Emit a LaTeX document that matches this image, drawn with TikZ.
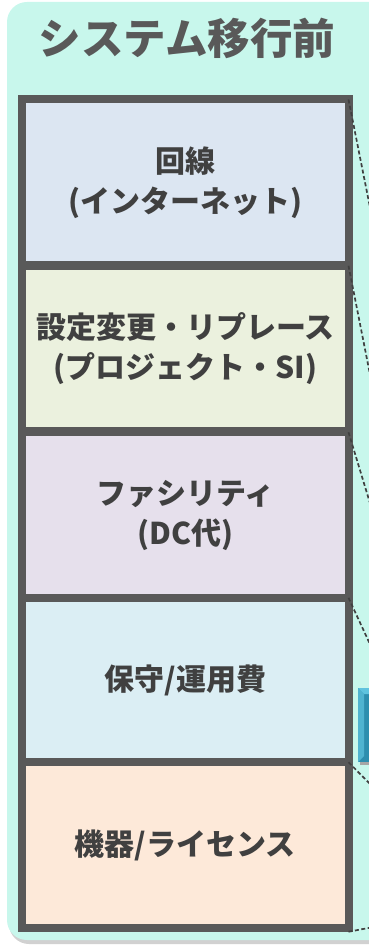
\documentclass[tikz,border=0pt]{standalone}
\usepackage{fontspec}
\newfontfamily\jp{Noto Sans CJK JP}
\definecolor{mint}{HTML}{C8F7EC}
\definecolor{frame}{HTML}{595959}
\definecolor{txt}{HTML}{404040}
\definecolor{fA}{HTML}{DCE6F2}
\definecolor{fB}{HTML}{EBF1DE}
\definecolor{fC}{HTML}{E6E0EC}
\definecolor{fD}{HTML}{DBEEF4}
\definecolor{fE}{HTML}{FDE9D9}
\definecolor{blk}{HTML}{2E8EAE}
\definecolor{blkhi}{HTML}{5FC3DE}
\begin{document}
\begin{tikzpicture}[x=1pt,y=-1pt,
  layer/.style={draw=frame, line width=8pt, minimum width=326.5pt, minimum height=165.5pt,
    inner sep=0pt, outer sep=0pt, align=center, text=txt,
    font=\jp\bfseries\fontsize{30}{40}\selectfont},
  conn/.style={draw=black!75, line width=1.7pt, dash pattern=on 4pt off 2.5pt}]
\useasboundingbox (0,0) rectangle (369,952);
\begin{scope}
\clip (0,0) rectangle (369,952);
% outer panel
\fill[black!18, rounded corners=20pt] (9,6) rectangle (404,944);
\fill[mint, rounded corners=20pt] (7,2) rectangle (402,940);
% title
\node[font=\jp\bfseries\fontsize{42.5}{46}\selectfont, text=frame] (title) at (187,38) {システム移行前};
% layers
\node[layer, fill=fA] (l1) at (185.25,182.25) {回線\\(インターネット)};
\node[layer, fill=fB] (l2) at (185.25,348.5) {設定変更・リプレース\\(プロジェクト・SI)};
\node[layer, fill=fC] (l3) at (185.25,515) {ファシリティ\\(DC代)};
\node[layer, fill=fD] (l4) at (185.25,680.5) {保守/運用費};
\node[layer, fill=fE] (l5) at (185.25,845) {機器/ライセンス};
% blue block
\fill[black!35] (360,691) rectangle (400,765);
\fill[blk] (358,688) rectangle (400,762);
\fill[blkhi] (358,688) -- (400,688) -- (400,694) -- (364,694) -- cycle;
\fill[blkhi!70!blk] (358,688) -- (364,694) -- (364,756) -- (358,762) -- cycle;
% dashed connectors
\coordinate (t1) at (400,358);
\coordinate (t2) at (400,526);
\coordinate (t3) at (400,602);
\coordinate (t4) at (400,709);
\coordinate (t5) at (400,814);
\coordinate (t6) at (400,922);
\draw[conn] (l1.north east) -- (t1);
\draw[conn] (l2.north east) -- (t2);
\draw[conn] (l3.north east) -- (t3);
\draw[conn] (l4.north east) -- (t4);
\draw[conn] (l5.north east) -- (t5);
\draw[conn] ([yshift=-4pt]l5.south east) -- (t6);
\end{scope}
\end{tikzpicture}
\end{document}
